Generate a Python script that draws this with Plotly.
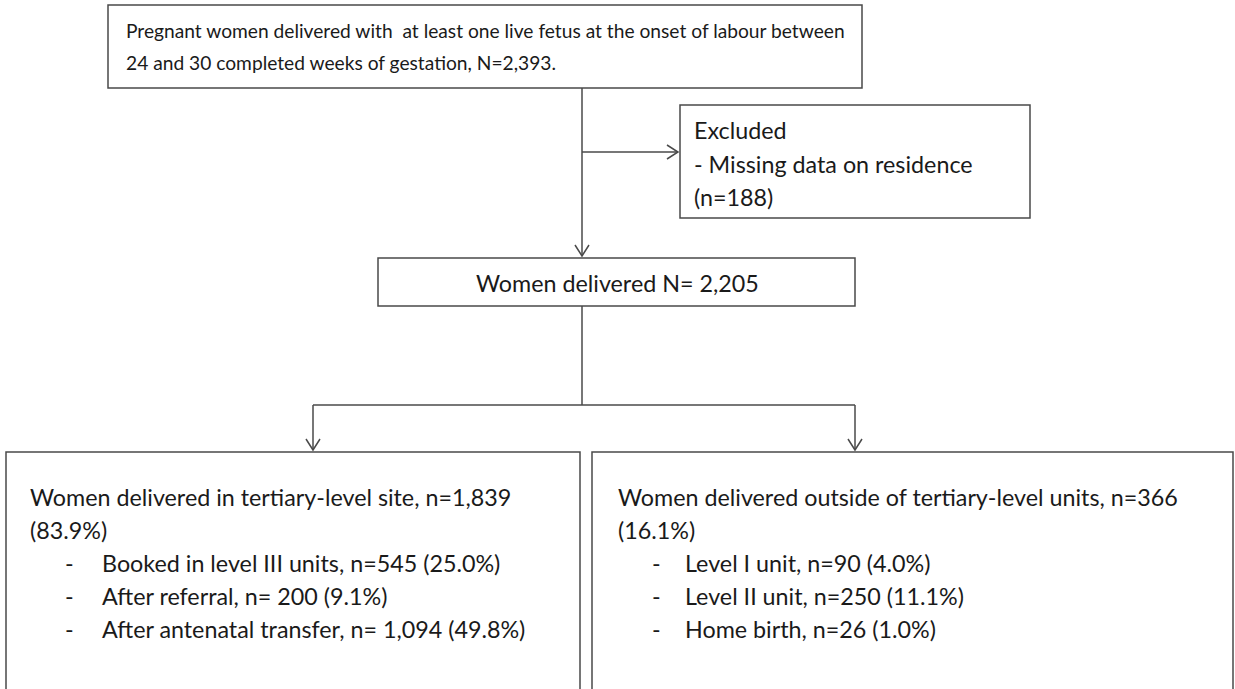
import plotly.graph_objects as go

# ---- text content (data) ----
top_lines = [
    "Pregnant women delivered with  at least one live fetus at the onset of labour between",
    "24 and 30 completed weeks of gestation, N=2,393.",
]
excluded_lines = ["Excluded", "- Missing data on residence", "(n=188)"]
middle_label = "Women delivered N= 2,205"
left_header = ["Women delivered in tertiary-level site, n=1,839", "(83.9%)"]
left_items = [
    "Booked in level III units, n=545 (25.0%)",
    "After referral, n= 200 (9.1%)",
    "After antenatal transfer, n= 1,094 (49.8%)",
]
right_header = ["Women delivered outside of tertiary-level units, n=366", "(16.1%)"]
right_items = [
    "Level I unit, n=90 (4.0%)",
    "Level II unit, n=250 (11.1%)",
    "Home birth, n=26 (1.0%)",
]

W, H = 1235, 689
FONT = "Lato"
FS_TOP = 19.2
FS = 23.3
TXT = "#1a1a1a"
LINE = "#4a4a4a"
LW = 1.5

fig = go.Figure()
shapes = []
annotations = []


def box(x0, y0, x1, y1):
    shapes.append(dict(type="rect", x0=x0, y0=y0, x1=x1, y1=y1,
                       line=dict(color=LINE, width=LW), fillcolor="white", layer="below"))


def seg(x0, y0, x1, y1):
    shapes.append(dict(type="line", x0=x0, y0=y0, x1=x1, y1=y1,
                       line=dict(color=LINE, width=LW)))


def head(x, y, d):
    a, b = 11, 7
    if d == "down":
        p = f"M {x-b},{y-a} L {x},{y} L {x+b},{y-a}"
    else:
        p = f"M {x-a},{y-b} L {x},{y} L {x-a},{y+b}"
    shapes.append(dict(type="path", path=p, line=dict(color=LINE, width=LW)))


def text(x, y, s, size=FS, anchor="left"):
    annotations.append(dict(x=x, y=y, text=s, showarrow=False, xanchor=anchor,
                            yanchor="middle", font=dict(family=FONT, size=size, color=TXT)))


# top box
box(108, 5, 862, 88)
for i, s in enumerate(top_lines):
    text(124, 30 + i * 32, s, size=FS_TOP)

# down arrow to middle box and side arrow to excluded
seg(582, 88, 582, 256)
head(582, 256, "down")
seg(582, 152, 678, 152)
head(678, 152, "right")

box(680, 105, 1030, 218)
for i, s in enumerate(excluded_lines):
    text(692, 130 + i * 33.5, s)

# middle box
box(378, 258, 855, 306)
text(617, 283, middle_label, anchor="center")

# branch
seg(582, 306, 582, 405)
seg(313, 405, 855, 405)
seg(313, 405, 313, 450)
seg(855, 405, 855, 450)
head(313, 450, "down")
head(855, 450, "down")

# bottom boxes
box(6, 452, 580, 700)
box(592, 452, 1233, 700)

for i, s in enumerate(left_header):
    text(28, 497 + i * 33, s)
for i, s in enumerate(left_items):
    y = 563 + i * 33
    text(63, y, "-")
    text(100, y, s)

for i, s in enumerate(right_header):
    text(616, 497 + i * 33, s)
for i, s in enumerate(right_items):
    y = 563 + i * 33
    text(650, y, "-")
    text(683, y, s)

fig.update_layout(
    width=W, height=H,
    margin=dict(l=0, r=0, t=0, b=0),
    paper_bgcolor="white", plot_bgcolor="white",
    xaxis=dict(range=[0, W], visible=False, fixedrange=True),
    yaxis=dict(range=[H, 0], visible=False, fixedrange=True),
    shapes=shapes, annotations=annotations, showlegend=False,
)
fig.write_html(
    "out.html",
    config={"displayModeBar": False},
    post_script="document.body.style.margin='0';document.body.style.overflow='hidden';",
)
